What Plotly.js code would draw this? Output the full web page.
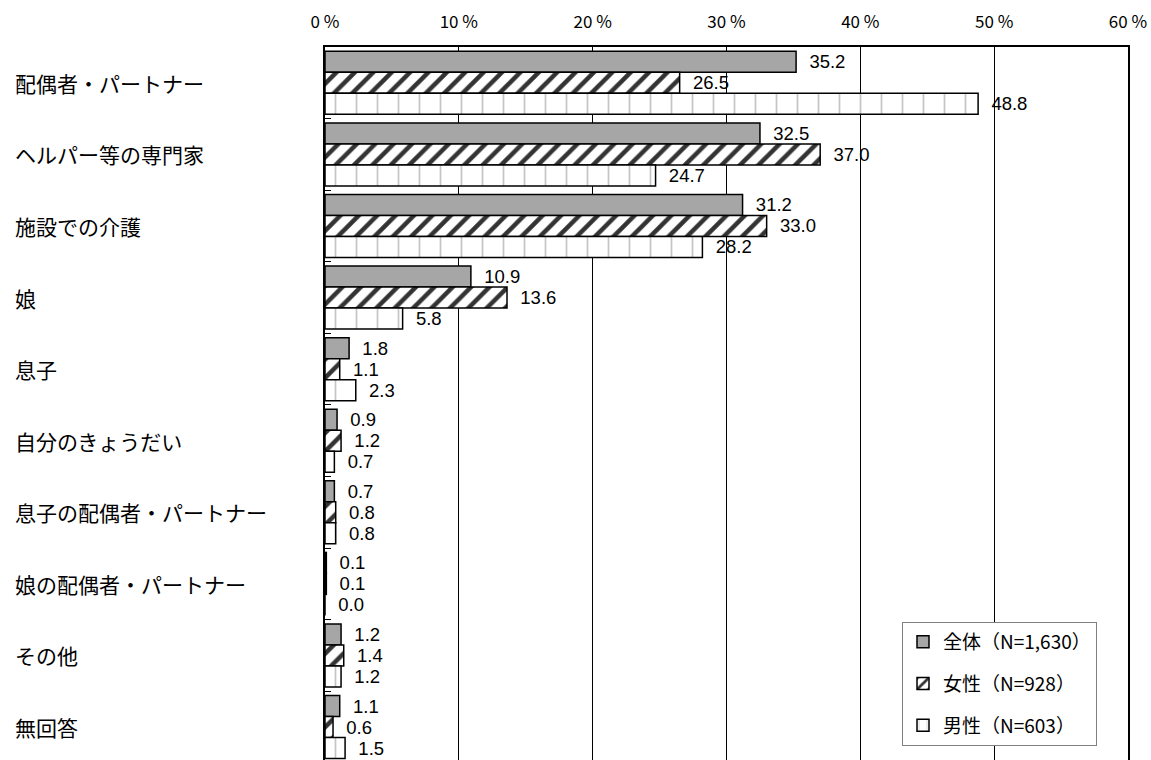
<!DOCTYPE html>
<html><head><meta charset="utf-8">
<script src="https://cdn.plot.ly/plotly-3.0.1.min.js"></script>
<style>body{margin:0;background:#fff}#c{width:1151px;height:760px}</style>
</head><body><div id="c"></div>
<script>
const categories = ["配偶者・パートナー","ヘルパー等の専門家","施設での介護","娘","息子","自分のきょうだい","息子の配偶者・パートナー","娘の配偶者・パートナー","その他","無回答"];
const seriesNames = ["全体（N=1,630）","女性（N=928）","男性（N=603）"];
const total = [35.2, 32.5, 31.2, 10.9, 1.8, 0.9, 0.7, 0.1, 1.2, 1.1];
const female = [26.5, 37.0, 33.0, 13.6, 1.1, 1.2, 0.8, 0.1, 1.4, 0.6];
const male = [48.8, 24.7, 28.2, 5.8, 2.3, 0.7, 0.8, 0.0, 1.2, 1.5];
const tickVals = [0,10,20,30,40,50,60];

const numFont = {family:"Liberation Sans, Arial, sans-serif", size:18.5, color:"#000"};
function mk(vals, name, marker){
  return {type:"bar", orientation:"h", x:vals, y:categories, name:name,
    text: vals.map(v=>v.toFixed(1)), texttemplate:"  %{text}", textposition:"outside",
    textfont:numFont, cliponaxis:false, constraintext:"none", marker:marker, hoverinfo:"skip"};
}
const traces = [
  mk(total, seriesNames[0], {color:"#a6a6a6", line:{color:"#000", width:1.5}}),
  mk(female, seriesNames[1], {color:"#fff", line:{color:"#000", width:1.5},
      pattern:{shape:"/", fgcolor:"#333", bgcolor:"#fff", size:13, solidity:0.35}}),
  mk(male, seriesNames[2], {color:"#fff", line:{color:"#000", width:1.5},
      pattern:{shape:"|", fgcolor:"#c4c4c4", bgcolor:"#fff", size:21, solidity:0.08}})
];
const L=325, R=23, T=47, B=0, W=1151, H=760;
const pw = W-L-R;
const annotations = categories.map(c=>({xref:"paper", yref:"y", x:-(L-13)/pw, y:c, xanchor:"left", yanchor:"middle",
  text:c, showarrow:false, font:{family:"Noto Sans CJK JP", size:21, color:"#000"}}));
const layout = {
  width:W, height:H, margin:{l:L, r:R, t:T, b:B},
  paper_bgcolor:"#fff", plot_bgcolor:"#fff",
  barmode:"group", bargap:0.12, bargroupgap:0,
  showlegend:true,
  legend:{x:(902-L)/pw, y:(H-622)/(H-T), xanchor:"left", yanchor:"top",
    bgcolor:"#fff", bordercolor:"#808080", borderwidth:1,
    font:{family:"Noto Sans CJK JP", size:19, color:"#000"}, tracegroupgap:14, traceorder:"grouped"},
  xaxis:{side:"top", range:[0,60], tickvals:tickVals, ticktext:tickVals.map(v=>v+" %"),
    showgrid:true, gridcolor:"#000", gridwidth:1, zeroline:false,
    showline:true, linecolor:"#000", linewidth:2, mirror:true, ticks:"", ticklabelstandoff:10,
    tickfont:{family:"Noto Sans CJK JP", size:17, color:"#000"}, fixedrange:true},
  yaxis:{type:"category", range:[9.46,-0.5], showticklabels:false, showgrid:false, zeroline:false,
    showline:true, linecolor:"#000", linewidth:2, mirror:true, ticks:"inside", tickson:"boundaries",
    ticklen:6, tickcolor:"#000", tickwidth:1, fixedrange:true},
  annotations:annotations
};
traces.forEach((t,i)=>{t.legendgroup="g"+i;});
Plotly.newPlot("c", traces, layout, {displayModeBar:false, staticPlot:true});
</script></body></html>
